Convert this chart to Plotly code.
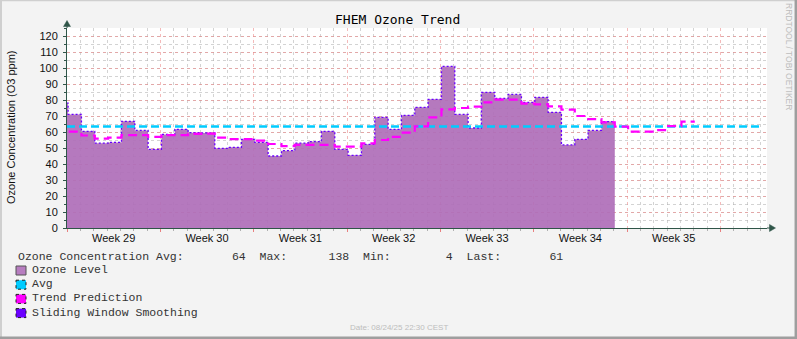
import plotly.graph_objects as go
import pandas as pd
import numpy as np

# ---------------- data ----------------
TITLE = "FHEM Ozone Trend"
Y_TITLE = "Ozone Concentration (O3 ppm)"
week_labels = ["Week 29", "Week 30", "Week 31", "Week 32", "Week 33", "Week 34", "Week 35"]
week_centers = ["2025-07-17 12:00", "2025-07-24 12:00", "2025-07-31 12:00", "2025-08-07 12:00",
                "2025-08-14 12:00", "2025-08-21 12:00", "2025-08-28 12:00"]
y_tick_vals = [0, 10, 20, 30, 40, 50, 60, 70, 80, 90, 100, 110, 120]

# daily values (steps start 02:00 local, first step = 2025-07-13 02:00)
first_step = "2025-07-13 02:00"
ozone_level = [78, 71, 60.4, 53, 53.5, 66.7, 61, 49.2, 58.5, 61.7, 59.6, 59.4, 49.8, 50.4,
               55.4, 53.5, 45, 48.3, 53, 54, 60.4, 49.2, 45.4, 52.3, 69.2, 61.7, 70.4, 75.4,
               80.4, 101, 71, 62.5, 84.8, 81, 83.5, 78.5, 81.7, 72.3, 51.9, 55.4, 61, 66.5]
sliding_window = list(ozone_level)
trend_prediction = [60.2, 60.2, 57.8, 55.8, 56.5, 58.1, 58.1, 57, 58.1, 58.1, 58.8, 59, 56.5,
                    55.6, 55.6, 54.6, 52.5, 51.2, 51.9, 51.9, 51.9, 50.8, 50.8, 52.9, 55, 57,
                    59.6, 63.5, 69.2, 74.2, 75, 75.8, 78.5, 80.2, 80.2, 77.7, 77.3, 76, 74,
                    70, 68, 66, 63.3, 60.2, 60.2, 61.2, 63.7, 66.5]
avg_value = 63.5
avg_span = ["2025-07-14 00:00", "2025-09-04 04:00"]
x_range = ["2025-07-14 00:00", "2025-09-04 12:00"]
y_range = [0, 125]

stats = {"Avg": 64, "Max": 138, "Min": 4, "Last": 61}
legend_items = ["Ozone Level", "Avg", "Trend Prediction", "Sliding Window Smoothing"]
date_text = "Date: 08/24/25 22:30 CEST"
side_text = "RRDTOOL / TOBI OETIKER"

# colours
C_AREA = "rgba(175,110,185,0.92)"
C_AREA_SOLID = "#B77DC0"
C_SLIDE = "#6A00FF"
C_AVG = "#00CCFF"
C_TREND = "#FF00FF"
C_AXIS = "#2F5548"
C_MAJOR = "rgba(236,140,140,0.6)"
C_MINOR = "rgba(175,175,175,0.55)"


def steps(values):
    t = pd.Timestamp(first_step) + pd.to_timedelta(np.arange(len(values) + 1), unit="D")
    return list(t), list(values) + [values[-1]]


W, H = 797, 339
L, R, T, B = 67, 30, 28, 111
PW, PH = W - L - R, H - T - B


def px(x):
    return (x - L) / PW


def py(y):
    return (H - B - y) / PH


fig = go.Figure()

xa, ya = steps(ozone_level)
fig.add_trace(go.Scatter(x=xa, y=ya, mode="lines", line=dict(shape="hv", width=0),
                         fill="tozeroy", fillcolor=C_AREA, hoverinfo="skip"))
xs, ys = steps(sliding_window)
fig.add_trace(go.Scatter(x=xs, y=ys, mode="lines",
                         line=dict(shape="hv", color=C_SLIDE, width=1.3, dash="2px,2px")))
fig.add_trace(go.Scatter(x=avg_span, y=[avg_value, avg_value], mode="lines",
                         line=dict(color=C_AVG, width=2.5, dash="8px,4px")))
xt, yt = steps(trend_prediction)
fig.add_trace(go.Scatter(x=xt, y=yt, mode="lines",
                         line=dict(shape="hv", color=C_TREND, width=2.2, dash="9px,5px")))
# invisible trace for label axis
fig.add_trace(go.Scatter(x=week_centers, y=[None] * len(week_centers), xaxis="x2",
                         mode="markers", showlegend=False))

fig.update_layout(
    width=W, height=H, autosize=False,
    margin=dict(l=L, r=R, t=T, b=B, pad=0),
    paper_bgcolor="#F3F3F3", plot_bgcolor="#FFFFFF",
    showlegend=False,
    xaxis=dict(type="date", range=x_range, showticklabels=False,
               tick0="2025-07-14", dtick=7 * 86400000,
               showgrid=True, gridcolor=C_MAJOR, griddash="dot", gridwidth=1,
               ticks="outside", ticklen=3, tickcolor="#E88080",
               minor=dict(dtick=86400000, tick0="2025-07-14", showgrid=True,
                          gridcolor=C_MINOR, griddash="dot", gridwidth=1,
                          ticks="outside", ticklen=2, tickcolor="#B0B0B0"),
               showline=True, linecolor=C_AXIS, linewidth=1, zeroline=False),
    xaxis2=dict(type="date", range=x_range, overlaying="x", anchor="y", side="bottom",
                tickmode="array", tickvals=week_centers, ticktext=week_labels,
                showgrid=False, ticks="", ticklabelstandoff=2, showline=False, zeroline=False,
                tickfont=dict(family="Liberation Sans", size=11, color="#111")),
    yaxis=dict(range=y_range, tickmode="array", tickvals=y_tick_vals,
               showgrid=True, gridcolor=C_MAJOR, griddash="dot",
               ticks="outside", ticklen=3, tickcolor=C_AXIS, ticklabelstandoff=3,
               minor=dict(dtick=5, showgrid=True, gridcolor=C_MINOR,
                          griddash="dot", ticks="outside", ticklen=2, tickcolor=C_AXIS),
               tickfont=dict(family="Liberation Sans", size=11, color="#111"),
               showline=True, linecolor=C_AXIS, linewidth=1, zeroline=False),
)

shapes = []
# frame
shapes.append(dict(type="line", xref="paper", yref="paper", x0=px(0), x1=px(797), y0=py(0.5), y1=py(0.5),
                   line=dict(color="#CFCFCF", width=1.5)))
shapes.append(dict(type="line", xref="paper", yref="paper", x0=px(1), x1=px(1), y0=py(0), y1=py(339),
                   line=dict(color="#CFCFCF", width=2)))
shapes.append(dict(type="line", xref="paper", yref="paper", x0=px(795.8), x1=px(795.8), y0=py(0), y1=py(339),
                   line=dict(color="#9E9E9E", width=2.5)))
shapes.append(dict(type="line", xref="paper", yref="paper", x0=px(0), x1=px(797), y0=py(337.8), y1=py(337.8),
                   line=dict(color="#9E9E9E", width=2.5)))
# axis arrows
shapes.append(dict(type="line", xref="paper", yref="paper", x0=px(67), x1=px(67), y0=py(28), y1=py(25),
                   line=dict(color=C_AXIS, width=1)))
shapes.append(dict(type="path", xref="paper", yref="paper",
                   path=f"M {px(67)},{py(20.5)} L {px(63.5)},{py(26.5)} L {px(70.5)},{py(26.5)} Z",
                   fillcolor=C_AXIS, line=dict(color=C_AXIS, width=0.5)))
shapes.append(dict(type="line", xref="paper", yref="paper", x0=px(767), x1=px(770), y0=py(228), y1=py(228),
                   line=dict(color=C_AXIS, width=1)))
shapes.append(dict(type="path", xref="paper", yref="paper",
                   path=f"M {px(775.5)},{py(228)} L {px(769.5)},{py(224.5)} L {px(769.5)},{py(231.5)} Z",
                   fillcolor=C_AXIS, line=dict(color=C_AXIS, width=0.5)))

# legend boxes
box_cols = [C_AREA_SOLID, C_AVG, C_TREND, C_SLIDE]
legend_y = [269.5, 283.7, 297.9, 312.1]
for i, (c, yc) in enumerate(zip(box_cols, legend_y)):
    shapes.append(dict(type="rect", xref="paper", yref="paper",
                       x0=px(16), x1=px(26), y0=py(yc + 1 - 4.5), y1=py(yc + 1 + 4.5),
                       fillcolor=c,
                       line=dict(color="#555" if i == 0 else "#222", width=1,
                                 dash="solid" if i == 0 else "dot")))
fig.update_layout(shapes=shapes)

NB = "\u00a0"
stat_line = (f"Ozone Concentration Avg:{stats['Avg']:>9d}  Max:{stats['Max']:>9d}"
             f"  Min:{stats['Min']:>9d}  Last:{stats['Last']:>9d}").replace(" ", NB)

ann = []
ann.append(dict(text=TITLE, xref="paper", yref="paper", x=px(397.5), y=py(20), showarrow=False,
                xanchor="center", yanchor="middle",
                font=dict(family="DejaVu Sans Mono", size=13, color="#000")))
ann.append(dict(text=Y_TITLE, xref="paper", yref="paper", x=px(10.5), y=py(127.5), showarrow=False,
                textangle=-90, xanchor="center", yanchor="middle",
                font=dict(family="Liberation Sans", size=11, color="#111")))
ann.append(dict(text=stat_line, xref="paper", yref="paper", x=px(16), y=py(256), showarrow=False,
                xanchor="left", yanchor="middle",
                font=dict(family="Liberation Mono", size=11.5, color="#333")))
for name, yc in zip(legend_items, legend_y):
    ann.append(dict(text=name.replace(" ", NB), xref="paper", yref="paper", x=px(30), y=py(yc),
                    showarrow=False, xanchor="left", yanchor="middle",
                    font=dict(family="Liberation Mono", size=11.5, color="#333")))
ann.append(dict(text=date_text, xref="paper", yref="paper", x=px(398.5), y=py(327.5), showarrow=False,
                xanchor="center", yanchor="middle",
                font=dict(family="Liberation Sans", size=8, color="#BDBDBD")))
ann.append(dict(text=side_text, xref="paper", yref="paper", x=px(788.5), y=py(56.5), showarrow=False,
                textangle=90, xanchor="center", yanchor="middle",
                font=dict(family="Liberation Sans", size=8.5, color="#BDBDBD")))
fig.update_layout(annotations=ann)

fig.write_html("out.html")
